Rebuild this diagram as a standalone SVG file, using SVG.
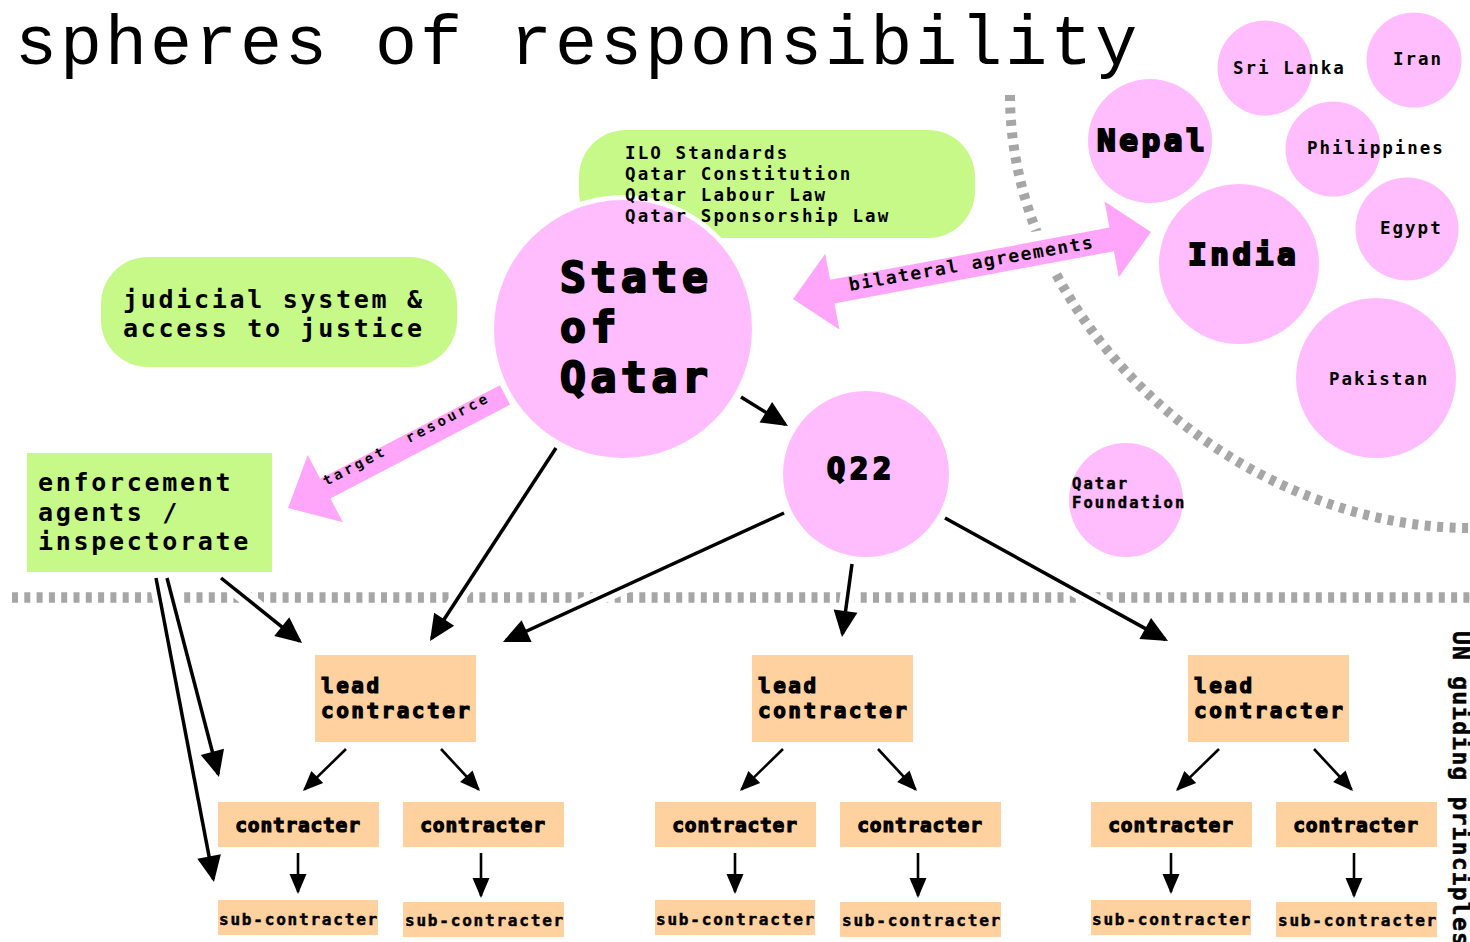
<svg xmlns="http://www.w3.org/2000/svg" width="1470" height="942" viewBox="0 0 1470 942">
<style>
.bg{fill:#ffffff}
.pink{fill:#FFBDFE}
.green{fill:#C6F987}
.orange{fill:#FFD19E}
.parrow{fill:#FFA6FB}
.dash{fill:none;stroke:#A6A6A6}
.lbl{font-family:"DejaVu Sans Mono","Liberation Mono",monospace;font-weight:bold;fill:#000}
.heavy{stroke:#000;stroke-width:1.2;paint-order:stroke}
.xheavy{stroke:#000;stroke-width:2.2;paint-order:stroke}
.mid{stroke:#000;stroke-width:0.5}
.title{font-family:"Liberation Mono","DejaVu Sans Mono",monospace;font-size:70px;letter-spacing:3px;fill:#000}
.big{stroke:#000;stroke-width:3.5;fill:none;marker-end:url(#ah)}
.small{stroke:#000;stroke-width:2.6;fill:none;marker-end:url(#ahs)}
.casing{stroke:#fff;stroke-width:15;fill:none}
</style>
<defs>
<marker id="ah" viewBox="-27 -13 29 26" refX="-3" refY="0" markerWidth="29" markerHeight="26" markerUnits="userSpaceOnUse" orient="auto"><path d="M-26,-12 L0,0 L-26,12 Z" fill="#000"/></marker>
<marker id="ahs" viewBox="-21 -10 23 20" refX="-2" refY="0" markerWidth="23" markerHeight="20" markerUnits="userSpaceOnUse" orient="auto"><path d="M-20,-8.5 L0,0 L-20,8.5 Z" fill="#000"/></marker>
<clipPath id="band"><rect x="0" y="589" width="1470" height="17"/></clipPath>
<clipPath id="arcgap"><rect x="1020" y="215" width="50" height="75"/></clipPath>
<mask id="stateHole"><rect x="0" y="0" width="1470" height="942" fill="#fff"/><circle cx="623" cy="329" r="134" fill="#000"/></mask>
</defs>
<rect class="bg" x="0" y="0" width="1470" height="942"/>

<g id="title"><text class="title" x="15" y="64">spheres of responsibility</text></g>

<g id="boundaries">
<path class="dash" d="M1010,95 C1010,327 1238,528 1470,528" stroke-width="10" stroke-dasharray="6 6.5"/>
<line class="dash" x1="12" y1="597.5" x2="1470" y2="597.5" stroke-width="10.5" stroke-dasharray="6 6.3"/>
</g>

<g id="state-of-qatar">
<circle class="pink" cx="623" cy="329" r="129"/>
<text class="lbl xheavy" font-size="43" letter-spacing="4.6"><tspan x="560" y="292">State</tspan><tspan x="560" y="342">of</tspan><tspan x="560" y="392">Qatar</tspan></text>
</g>

<g id="laws">
<rect class="green" x="579" y="130" width="396" height="108" rx="47" mask="url(#stateHole)"/>
<text class="lbl" font-size="17.5" letter-spacing="2.1"><tspan x="625" y="159">ILO Standards</tspan><tspan x="625" y="180">Qatar Constitution</tspan><tspan x="625" y="201">Qatar Labour Law</tspan><tspan x="625" y="222">Qatar Sponsorship Law</tspan></text>
</g>

<g id="judicial">
<rect class="green" x="101" y="257" width="356" height="110" rx="47"/>
<text class="lbl" font-size="25" letter-spacing="2.7"><tspan x="123" y="308">judicial system &amp;</tspan><tspan x="123" y="337">access to justice</tspan></text>
</g>

<g id="enforcement">
<rect class="green" x="27" y="453" width="245" height="119"/>
<text class="lbl" font-size="25" letter-spacing="2.7"><tspan x="38" y="491">enforcement</tspan><tspan x="38" y="521">agents /</tspan><tspan x="38" y="550">inspectorate</tspan></text>
</g>

<g id="q22">
<circle class="pink" cx="866" cy="474" r="83"/>
<text class="lbl xheavy" x="827" y="479" font-size="30" letter-spacing="5">Q22</text>
</g>

<g id="nepal"><circle class="pink" cx="1150" cy="141" r="62"/><text class="lbl xheavy" x="1097" y="151" font-size="31" letter-spacing="3.6">Nepal</text></g>
<g id="india"><circle class="pink" cx="1239" cy="264" r="80"/><text class="lbl xheavy" x="1188" y="265" font-size="31" letter-spacing="3.6">India</text></g>
<g id="sri-lanka"><circle class="pink" cx="1265" cy="68" r="47.5"/><text class="lbl" x="1233" y="74" font-size="17.5" letter-spacing="2">Sri Lanka</text></g>
<g id="iran"><circle class="pink" cx="1414" cy="60" r="47.5"/><text class="lbl" x="1393" y="65" font-size="17.5" letter-spacing="2">Iran</text></g>
<g id="philippines"><circle class="pink" cx="1333" cy="149" r="47.5"/><text class="lbl" x="1307" y="154" font-size="17.5" letter-spacing="2">Philippines</text></g>
<g id="egypt"><circle class="pink" cx="1407" cy="229" r="51.5"/><text class="lbl" x="1380" y="234" font-size="17.5" letter-spacing="2">Egypt</text></g>
<g id="pakistan"><circle class="pink" cx="1376" cy="378" r="80"/><text class="lbl" x="1329" y="385" font-size="17.5" letter-spacing="2">Pakistan</text></g>
<g id="qatar-foundation"><circle class="pink" cx="1126" cy="500" r="57"/><text class="lbl mid" font-size="15.5" letter-spacing="2.1"><tspan x="1072" y="489">Qatar</tspan><tspan x="1072" y="508">Foundation</tspan></text></g>

<g id="lead-1"><rect class="orange" x="315" y="655" width="161" height="87"/><text class="lbl heavy" font-size="21" letter-spacing="2.5"><tspan x="321" y="693">lead</tspan><tspan x="321" y="718">contracter</tspan></text></g>
<g id="lead-2"><rect class="orange" x="752" y="655" width="161" height="87"/><text class="lbl heavy" font-size="21" letter-spacing="2.5"><tspan x="758" y="693">lead</tspan><tspan x="758" y="718">contracter</tspan></text></g>
<g id="lead-3"><rect class="orange" x="1188" y="655" width="161" height="87"/><text class="lbl heavy" font-size="21" letter-spacing="2.5"><tspan x="1194" y="693">lead</tspan><tspan x="1194" y="718">contracter</tspan></text></g>

<g id="contracter-1a"><rect class="orange" x="218" y="802" width="161" height="45"/><text class="lbl heavy" x="298" y="832" font-size="19.5" letter-spacing="0.8" text-anchor="middle">contracter</text></g>
<g id="contracter-1b"><rect class="orange" x="403" y="802" width="161" height="45"/><text class="lbl heavy" x="483" y="832" font-size="19.5" letter-spacing="0.8" text-anchor="middle">contracter</text></g>
<g id="contracter-2a"><rect class="orange" x="655" y="802" width="161" height="45"/><text class="lbl heavy" x="735" y="832" font-size="19.5" letter-spacing="0.8" text-anchor="middle">contracter</text></g>
<g id="contracter-2b"><rect class="orange" x="840" y="802" width="161" height="45"/><text class="lbl heavy" x="920" y="832" font-size="19.5" letter-spacing="0.8" text-anchor="middle">contracter</text></g>
<g id="contracter-3a"><rect class="orange" x="1091" y="802" width="161" height="45"/><text class="lbl heavy" x="1171" y="832" font-size="19.5" letter-spacing="0.8" text-anchor="middle">contracter</text></g>
<g id="contracter-3b"><rect class="orange" x="1276" y="802" width="161" height="45"/><text class="lbl heavy" x="1356" y="832" font-size="19.5" letter-spacing="0.8" text-anchor="middle">contracter</text></g>

<g id="sub-1a"><rect class="orange" x="218" y="900" width="160" height="35"/><text class="lbl mid" x="299" y="925" font-size="16" letter-spacing="1.8" text-anchor="middle">sub-contracter</text></g>
<g id="sub-1b"><rect class="orange" x="403" y="902" width="161" height="35"/><text class="lbl mid" x="485" y="926" font-size="16" letter-spacing="1.8" text-anchor="middle">sub-contracter</text></g>
<g id="sub-2a"><rect class="orange" x="655" y="900" width="160" height="35"/><text class="lbl mid" x="736" y="925" font-size="16" letter-spacing="1.8" text-anchor="middle">sub-contracter</text></g>
<g id="sub-2b"><rect class="orange" x="840" y="902" width="161" height="35"/><text class="lbl mid" x="922" y="926" font-size="16" letter-spacing="1.8" text-anchor="middle">sub-contracter</text></g>
<g id="sub-3a"><rect class="orange" x="1091" y="900" width="160" height="35"/><text class="lbl mid" x="1172" y="925" font-size="16" letter-spacing="1.8" text-anchor="middle">sub-contracter</text></g>
<g id="sub-3b"><rect class="orange" x="1276" y="902" width="161" height="35"/><text class="lbl mid" x="1358" y="926" font-size="16" letter-spacing="1.8" text-anchor="middle">sub-contracter</text></g>

<g id="un-guiding-principles"><text class="lbl mid" transform="translate(1453,631) rotate(90)" font-size="23" letter-spacing="1.2">UN guiding principles</text></g>

<g id="connectors">
<g id="bilateral-agreements">
<polygon clip-path="url(#arcgap)" fill="#fff" stroke="#fff" stroke-width="20" stroke-linejoin="round" points="793,299 825.2,253.8 830.1,279.8 1109.5,227.6 1104.6,201.6 1151,232 1118.8,277.2 1113.9,251.2 834.5,303.4 839.4,329.4"/>
<polygon class="parrow" points="793,299 825.2,253.8 830.1,279.8 1109.5,227.6 1104.6,201.6 1151,232 1118.8,277.2 1113.9,251.2 834.5,303.4 839.4,329.4"/>
<text class="lbl" transform="translate(850,291) rotate(-10)" font-size="18" letter-spacing="1.6">bilateral agreements</text>
</g>
<g id="target-resource">
<polygon class="parrow" points="288,508 342.9,522.3 330.4,498.4 510.1,404.8 499.9,385.2 320.2,478.8 307.7,454.9"/>
<text class="lbl" transform="translate(326,486) rotate(-27.3)" font-size="14" letter-spacing="3.2" xml:space="preserve">target  resource</text>
</g>
<g clip-path="url(#band)">
<line class="casing" x1="556" y1="448" x2="431.6" y2="638.5"/>
<line class="casing" x1="784" y1="513" x2="505.7" y2="640.7"/>
<line class="casing" x1="852" y1="564" x2="842.4" y2="634"/>
<line class="casing" x1="945" y1="518" x2="1165.4" y2="639.6"/>
<line class="casing" x1="221" y1="578" x2="299.7" y2="641.1"/>
<line class="casing" x1="167" y1="578" x2="218.2" y2="774.1"/>
<line class="casing" x1="156" y1="578" x2="213.4" y2="879.1"/>
</g>
<line class="big" x1="741" y1="397" x2="785.4" y2="424.4"/>
<line class="big" x1="556" y1="448" x2="431.6" y2="638.5"/>
<line class="big" x1="784" y1="513" x2="505.7" y2="640.7"/>
<line class="big" x1="852" y1="564" x2="842.4" y2="634"/>
<line class="big" x1="945" y1="518" x2="1165.4" y2="639.6"/>
<line class="big" x1="221" y1="578" x2="299.7" y2="641.1"/>
<line class="big" x1="167" y1="578" x2="218.2" y2="774.1"/>
<line class="big" x1="156" y1="578" x2="213.4" y2="879.1"/>
<line class="small" x1="346" y1="749" x2="304.4" y2="789.6"/>
<line class="small" x1="441" y1="749" x2="478.6" y2="789.5"/>
<line class="small" x1="298" y1="853" x2="298" y2="892"/>
<line class="small" x1="481" y1="853" x2="481" y2="896"/>
<line class="small" x1="783" y1="749" x2="741.4" y2="789.6"/>
<line class="small" x1="878" y1="749" x2="915.6" y2="789.5"/>
<line class="small" x1="735" y1="853" x2="735" y2="892"/>
<line class="small" x1="918" y1="853" x2="918" y2="896"/>
<line class="small" x1="1219" y1="749" x2="1177.4" y2="789.6"/>
<line class="small" x1="1314" y1="749" x2="1351.6" y2="789.5"/>
<line class="small" x1="1171" y1="853" x2="1171" y2="892"/>
<line class="small" x1="1354" y1="853" x2="1354" y2="896"/>
</g>
</svg>
